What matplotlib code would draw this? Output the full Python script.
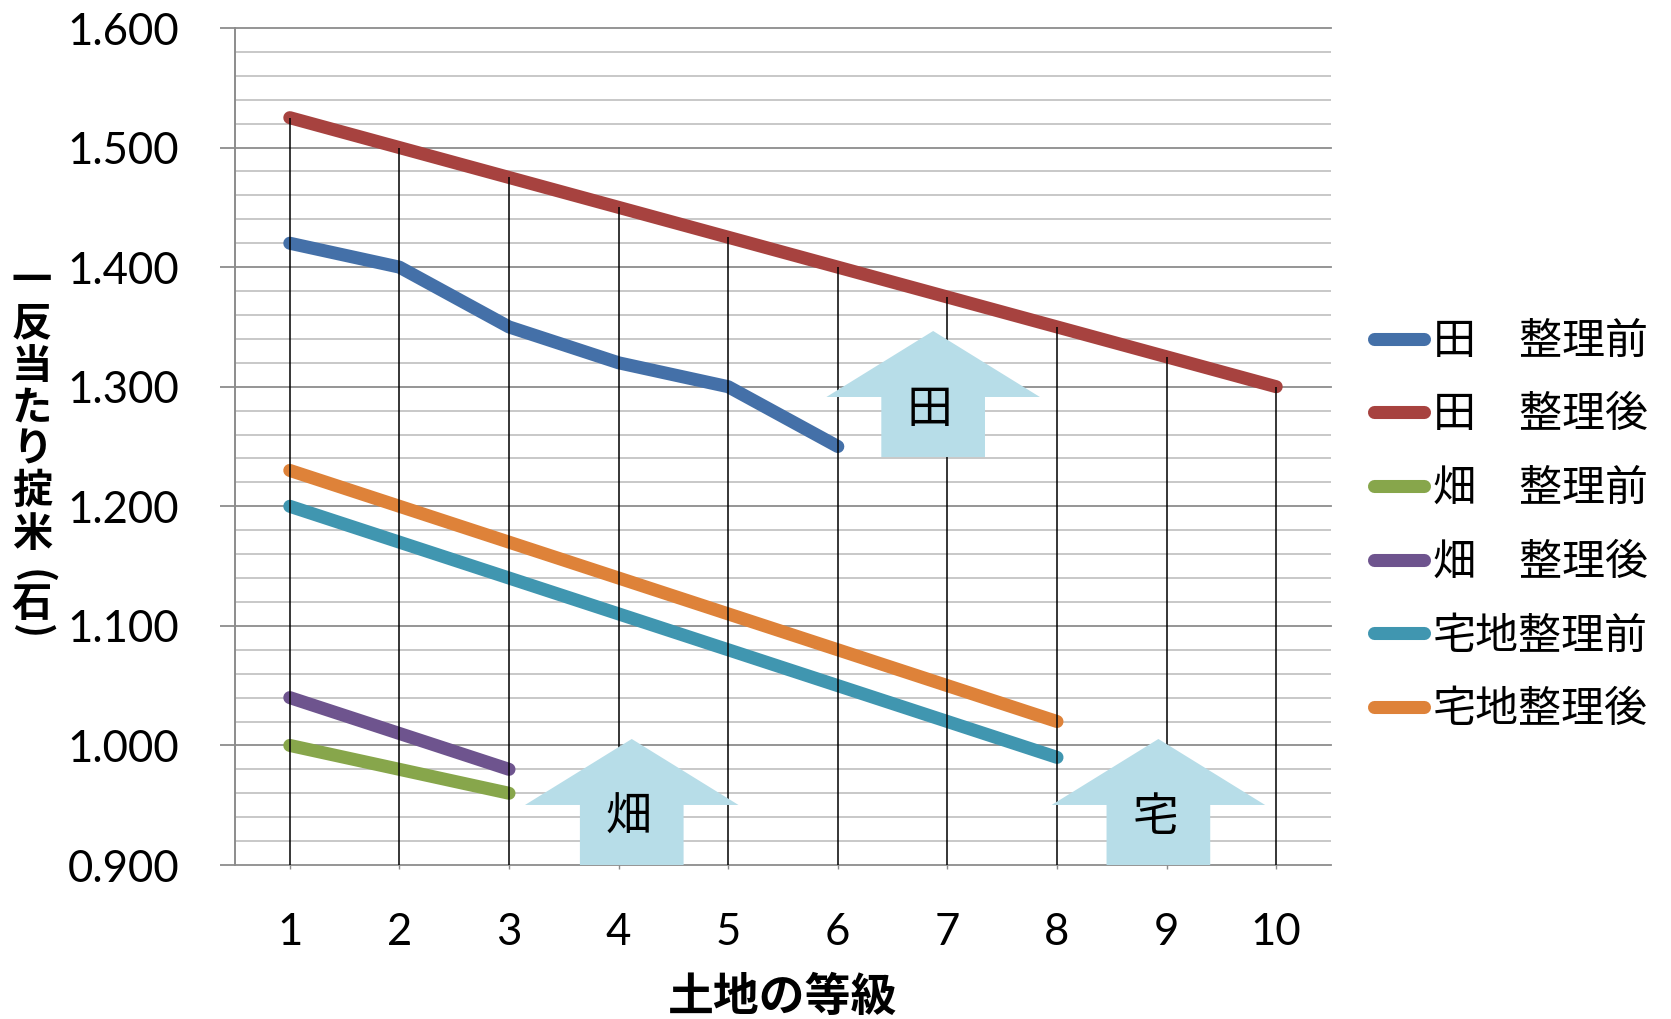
import matplotlib
matplotlib.use("Agg")
import matplotlib.pyplot as plt
from matplotlib.patches import Polygon

# 土地の等級
grades = [1, 2, 3, 4, 5, 6, 7, 8, 9, 10]

# 一反当たり掟米（石）
ta_before = [1.42, 1.40, 1.35, 1.32, 1.30, 1.25]
ta_after = [1.525, 1.50, 1.475, 1.45, 1.425, 1.40, 1.375, 1.35, 1.325, 1.30]
hata_before = [1.00, 0.98, 0.96]
hata_after = [1.04, 1.01, 0.98]
taku_before = [1.20, 1.17, 1.14, 1.11, 1.08, 1.05, 1.02, 0.99]
taku_after = [1.23, 1.20, 1.17, 1.14, 1.11, 1.08, 1.05, 1.02]

labels = ["田\u3000整理前", "田\u3000整理後", "畑\u3000整理前", "畑\u3000整理後",
          "宅地整理前", "宅地整理後"]
colors = ["#4470a8", "#a7423f", "#87a64b", "#6e548e", "#4096b0", "#de8239"]
series = [ta_before, ta_after, hata_before, hata_after, taku_before, taku_after]

ytick_vals = [0.9, 1.0, 1.1, 1.2, 1.3, 1.4, 1.5, 1.6]
ytick_text = ["0.900", "1.000", "1.100", "1.200", "1.300", "1.400", "1.500", "1.600"]

# up arrows: (text, centre x, bottom y)
arrows = [("田", 6.87, 1.2412), ("畑", 4.12, 0.9), ("宅", 8.925, 0.9)]

plt.rcParams['font.family'] = ['Lato', 'Noto Sans CJK JP', 'DejaVu Sans']
cjk = ['Noto Sans CJK JP', 'DejaVu Sans']

W, H = 1671, 1019
fig = plt.figure(figsize=(W / 100, H / 100), dpi=100)
ax = fig.add_axes([235 / W, 1 - 865 / H, (1331 - 235) / W, (865 - 28) / H])
ax.set_xlim(0.5, 10.5)
ax.set_ylim(0.9, 1.6)

# grid
minor = [0.9 + 0.02 * i for i in range(36)]
for v in minor:
    if round(v * 100) % 10 == 0:
        continue
    ax.axhline(v, color="#c4c4c4", lw=1.3, zorder=1)
for v in ytick_vals:
    ax.axhline(v, color="#8c8c8c", lw=1.3, zorder=1.5, clip_on=False)

for sp in ["top", "right", "bottom"]:
    ax.spines[sp].set_visible(False)
ax.spines["left"].set_color("#8c8c8c")
ax.spines["left"].set_linewidth(1.4)

ax.set_yticks(ytick_vals)
ax.set_yticklabels(ytick_text)
ax.tick_params(axis="y", length=11, width=1.3, color="#8c8c8c", pad=29, labelsize=31.5)
ax.set_xticks(grades)
ax.set_xticklabels([str(g) for g in grades])
ax.tick_params(axis="x", length=3, width=1.0, color="#8c8c8c", pad=31, labelsize=31.5)

handles = []
for vals, col, lab in zip(series, colors, labels):
    ln, = ax.plot(grades[:len(vals)], vals, color=col, lw=9.4, label=lab,
                  solid_capstyle="round", solid_joinstyle="round", zorder=3)
    handles.append(ln)

# drop lines from the highest series down to the axis
tops = [max(s[i] for s in series if i < len(s)) for i in range(len(grades))]
ax.vlines(grades, 0.9, tops, color="black", lw=1.1, zorder=4)

# block arrows
head_h, shaft_h = 0.0552, 0.0502
head_w, shaft_w = 0.974, 0.473
for txt, cx, yb in arrows:
    yh = yb + shaft_h
    pts = [(cx - shaft_w, yb), (cx + shaft_w, yb), (cx + shaft_w, yh), (cx + head_w, yh),
           (cx, yh + head_h), (cx - head_w, yh), (cx - shaft_w, yh)]
    ax.add_patch(Polygon(pts, closed=True, facecolor="#b7dde8", edgecolor="none", zorder=5))
    ax.text(cx - 0.03, yh - 0.0105, txt, ha="center", va="center", fontsize=33,
            family=cjk, zorder=6)

ax.set_xlabel("土地の等級", family=cjk, fontsize=33, fontweight="bold", labelpad=15.5)

# vertical y label, one character per line; brackets turned for vertical writing
ylab_chars = ["一", "反", "当", "た", "り", "掟", "米", "(", "石", ")"]
ylab_pos = [281, 324, 366, 408, 450, 492, 534, 577, 605, 632]
ylab_rot = [0, 0, 0, 0, 0, 0, 0, -90, 0, -90]
for ch, py, rot in zip(ylab_chars, ylab_pos, ylab_rot):
    fig.text(32 / W, 1 - py / H, ch, ha="center", va="center", fontsize=29,
             fontweight="bold", family=cjk, rotation=rot)

leg = ax.legend(handles=handles, loc="center left", bbox_to_anchor=(1374 / W, 1 - 526 / H),
                bbox_transform=fig.transFigure, frameon=False, borderpad=0,
                borderaxespad=0, handlelength=1.16, handletextpad=0.2,
                labelspacing=0.69, prop={"family": cjk, "size": 31})

fig.savefig("out.png", dpi=100)
